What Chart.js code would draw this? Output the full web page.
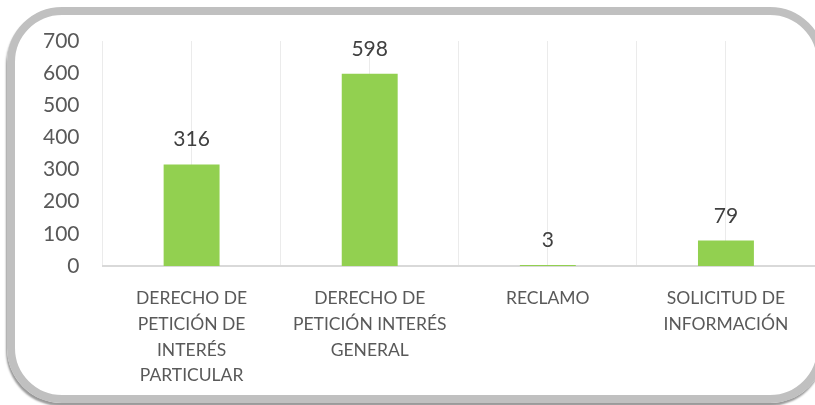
<!DOCTYPE html>
<html><head><meta charset="utf-8">
<script src="https://cdn.jsdelivr.net/npm/chart.js@4/dist/chart.umd.min.js"></script>
<style>
html,body{margin:0;padding:0;background:#fff;overflow:hidden}
#frame{position:absolute;left:7px;top:7px;width:802px;height:380px;border:8px solid #c0c0c0;border-radius:55px;box-shadow:-1px 3px 2px #9a9a9a;}
#wrap{position:absolute;left:0;top:0;width:815px;height:405px}
</style></head><body>
<div id="frame"></div>
<div id="wrap"><canvas id="c" width="815" height="405"></canvas></div>
<script>
const categories = [
  ["DERECHO DE","PETICIÓN DE","INTERÉS","PARTICULAR"],
  ["DERECHO DE","PETICIÓN INTERÉS","GENERAL"],
  ["RECLAMO"],
  ["SOLICITUD DE","INFORMACIÓN"]
];
const values = [316, 598, 3, 79];
const yTicks = [0,100,200,300,400,500,600,700];

const FONT = "Lato, 'Open Sans', sans-serif";

const valueLabels = {
  id:'valueLabels',
  afterDatasetsDraw(chart){
    const ctx = chart.ctx;
    const meta = chart.getDatasetMeta(0);
    ctx.save();
    ctx.font = "21px " + FONT;
    ctx.fillStyle = "#404040";
    ctx.textAlign = "center";
    ctx.textBaseline = "alphabetic";
    meta.data.forEach((bar,i)=>{
      ctx.fillText(String(values[i]), bar.x, bar.y - 18);
    });
    ctx.restore();
  }
};

new Chart(document.getElementById('c'), {
  type:'bar',
  data:{labels:categories, datasets:[{data:values, backgroundColor:'#92d050', barPercentage:1, categoryPercentage:0.314}]},
  options:{
    responsive:false, animation:false,
    layout:{padding:{top:41,left:28,right:0,bottom:0}},
    plugins:{legend:{display:false},tooltip:{enabled:false}},
    scales:{
      x:{
        grid:{display:true,offset:true,color:'#ebebeb',drawTicks:false},
        border:{display:true,color:'#d9d9d9',width:2},
        ticks:{color:'#595959',font:{family:FONT,size:17.5,lineHeight:1.46},padding:20,maxRotation:0,autoSkip:false},
        afterFit(s){s.height=139;}
      },
      x2:{
        type:'category', labels:categories.map((c,i)=>String(i)), position:'top',
        grid:{display:true,offset:false,color:'#ebebeb',drawTicks:false},
        border:{display:false},
        ticks:{display:false},
        afterFit(s){s.height=0;}
      },
      y:{
        min:0,max:700,
        grid:{display:false},
        border:{display:false},
        afterBuildTicks(s){s.ticks = yTicks.map(v=>({value:v}));},
        ticks:{color:'#595959',font:{family:FONT,size:21},padding:15}
      }
    }
  },
  plugins:[valueLabels]
});
</script>
</body></html>
